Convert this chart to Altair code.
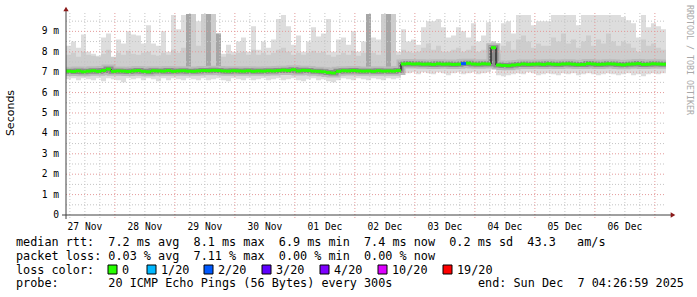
import altair as alt
import pandas as pd
from datetime import datetime, timezone, timedelta

# ---------------- data (2-hour bins, 120 bins over 10 days) ----------------
med = [
    7.05, 7.03, 7.06, 7.02, 7.05, 7.07, 7.04, 7.08, 7.15, 7.04,
    7.06, 7.05, 7.03, 7.06, 7.08, 7.04, 7.02, 7.07, 7.06, 7.05,
    7.08, 7.04, 7.06, 7.07, 7.05, 7.04, 7.06, 7.08, 7.07, 7.09,
    7.08, 7.06, 7.05, 7.07, 7.06, 7.05, 7.07, 7.04, 7.06, 7.05,
    7.07, 7.06, 7.08, 7.10, 7.08, 7.12, 7.06, 7.09, 7.08, 7.05,
    7.04, 7.02, 6.98, 6.96, 7.04, 7.07, 7.06, 7.08, 7.06, 7.05,
    7.06, 7.04, 7.07, 7.05, 7.06, 7.05, 7.08, 7.40, 7.42, 7.40,
    7.41, 7.39, 7.40, 7.38, 7.41, 7.39, 7.40, 7.38, 7.39, 7.42,
    7.44, 7.40, 7.39, 7.41, 7.40, 8.20, 7.35, 7.33, 7.32, 7.35,
    7.37, 7.40, 7.38, 7.39, 7.40, 7.38, 7.41, 7.39, 7.38, 7.40,
    7.41, 7.39, 7.37, 7.38, 7.42, 7.40, 7.38, 7.39, 7.41, 7.40,
    7.38, 7.36, 7.39, 7.40, 7.42, 7.38, 7.39, 7.41, 7.40, 7.39,
]
hi = [
    8.3, 8.5, 8.2, 8.85, 8.0, 7.9, 7.8, 8.7, 8.9, 7.6,
    8.6, 8.4, 9.0, 8.85, 8.8, 8.4, 9.3, 8.4, 8.3, 9.0,
    8.0, 9.8, 9.1, 9.8, 9.8, 9.8, 9.5, 9.8, 9.8, 9.6,
    8.7, 7.9, 8.35, 8.0, 8.5, 8.7, 8.0, 9.25, 8.1, 8.5,
    8.2, 8.6, 9.6, 9.8, 9.25, 8.35, 8.8, 8.0, 8.5, 9.2,
    8.75, 8.9, 9.6, 8.0, 8.6, 8.7, 8.35, 9.0, 8.0, 8.5,
    9.85, 8.7, 8.6, 9.8, 9.8, 9.8, 8.0, 9.1, 8.5, 8.6,
    8.35, 9.2, 9.5, 9.5, 9.6, 9.2, 8.7, 8.8, 9.2, 9.0,
    8.7, 9.4, 8.5, 8.8, 9.45, 8.5, 8.1, 9.4, 9.5, 8.9,
    9.8, 9.8, 9.8, 9.3, 9.5, 9.5, 9.5, 9.8, 9.8, 9.8,
    9.8, 9.8, 9.3, 9.8, 9.8, 9.8, 9.8, 9.8, 9.8, 9.8,
    9.8, 9.7, 9.55, 9.4, 8.7, 9.8, 9.2, 9.4, 9.25, 9.1,
]
mid = [
    7.85, 7.95, 7.75, 8.0, 7.85, 7.8, 7.75, 7.9, 8.1, 7.75,
    7.95, 7.85, 8.05, 7.9, 7.85, 7.95, 8.0, 7.85, 7.8, 7.95,
    7.85, 8.1, 7.95, 8.2, 9.85, 9.85, 8.3, 9.85, 9.85, 9.85,
    8.1, 7.75, 7.9, 7.85, 7.95, 8.0, 7.85, 8.1, 7.85, 7.95,
    7.85, 7.95, 8.1, 8.2, 8.0, 7.85, 7.95, 7.85, 7.95, 8.05,
    7.95, 8.0, 7.85, 7.75, 7.85, 7.95, 7.85, 8.05, 7.8, 7.95,
    8.1, 7.95, 7.85, 9.85, 9.85, 9.85, 7.85, 8.1, 8.0, 7.95,
    8.0, 8.2, 8.4, 8.1, 8.3, 8.0, 8.0, 8.1, 8.2, 8.0,
    8.1, 8.3, 8.0, 8.1, 8.4, 8.5, 7.9, 8.3, 8.5, 8.1,
    8.6, 8.8, 8.5, 8.2, 8.4, 8.3, 8.3, 8.7, 8.5, 8.9,
    8.4, 8.6, 8.2, 8.5, 8.8, 8.3, 8.6, 8.4, 8.9, 8.5,
    8.3, 8.5, 8.4, 8.2, 8.0, 8.6, 8.3, 8.4, 8.2, 8.1,
]
lo = [
    6.65, 6.7, 6.6, 6.7, 6.65, 6.6, 6.7, 6.55, 6.7, 6.65,
    6.6, 6.5, 6.7, 6.65, 6.7, 6.6, 6.7, 6.65, 6.55, 6.7,
    6.6, 6.7, 6.65, 6.6, 6.7, 6.65, 6.6, 6.7, 6.6, 6.65,
    6.7, 6.6, 6.55, 6.7, 6.65, 6.6, 6.7, 6.6, 6.65, 6.7,
    6.6, 6.65, 6.7, 6.6, 6.65, 6.7, 6.6, 6.55, 6.65, 6.7,
    6.6, 6.65, 6.55, 6.5, 6.6, 6.7, 6.65, 6.6, 6.7, 6.65,
    6.6, 6.7, 6.65, 6.6, 6.7, 6.65, 6.7, 7.0, 6.95, 7.0,
    6.9, 7.0, 6.95, 6.9, 7.0, 6.95, 6.85, 6.95, 7.0, 6.9,
    6.95, 7.0, 6.9, 6.95, 7.0, 7.95, 6.85, 6.8, 6.85, 6.9,
    6.95, 6.9, 7.0, 6.95, 6.85, 6.9, 6.95, 6.9, 6.85, 6.95,
    6.9, 6.95, 6.85, 6.9, 6.95, 6.9, 6.85, 6.9, 6.95, 6.9,
    6.85, 6.9, 6.95, 6.85, 6.9, 6.8, 6.9, 6.95, 6.9, 6.95,
]
loss = [
    0, 0, 0, 0, 0, 0, 0, 0, 0, 0,
    0, 0, 0, 0, 0, 0, 0, 0, 0, 0,
    0, 0, 0, 0, 0, 0, 0, 0, 0, 0,
    0, 0, 0, 0, 0, 0, 0, 0, 0, 0,
    0, 0, 0, 0, 0, 0, 0, 0, 0, 0,
    0, 0, 0, 0, 0, 0, 0, 0, 0, 0,
    0, 0, 0, 0, 0, 0, 0, 0, 0, 0,
    0, 0, 0, 0, 0, 0, 0, 0, 0, 2,
    0, 0, 0, 0, 0, 0, 0, 0, 0, 0,
    0, 0, 0, 0, 0, 0, 0, 0, 0, 0,
    0, 0, 0, 0, 0, 0, 0, 0, 0, 0,
    0, 0, 0, 0, 0, 0, 0, 0, 0, 0,
]
spike_bins = [24, 28, 30, 60, 64]
spike_top = [9.85, 9.85, 8.9, 9.85, 9.85]

loss_levels = [0, 1, 2, 3, 4, 10, 19]
loss_labels = ["0", "1/20", "2/20", "3/20", "4/20", "10/20", "19/20"]
loss_colors = ["#26ff00", "#00b8ff", "#0059ff", "#5e00ff", "#7e00ff", "#dd00ff", "#ff0000"]

y_ticks = [0, 1, 2, 3, 4, 5, 6, 7, 8, 9]
line_rtt = "median rtt:  7.2 ms avg  8.1 ms max  6.9 ms min  7.4 ms now  0.2 ms sd  43.3   am/s"
line_loss = "packet loss: 0.03 % avg  7.11 % max  0.00 % min  0.00 % now"
line_color = "loss color:"
line_probe = "probe:       20 ICMP Echo Pings (56 Bytes) every 300s"
line_end = "end: Sun Dec  7 04:26:59 2025"
side_text = "RRDTOOL / TOBI OETIKER"
y_title = "Seconds"

# ---------------- layout helpers ----------------
W, H = 600, 202
NB = len(med)
end_dt = datetime(2025, 12, 7, 4, 26, 59, tzinfo=timezone.utc)
start_dt = end_dt - timedelta(days=10)
start_ms = int(start_dt.timestamp() * 1000)
end_ms = int(end_dt.timestamp() * 1000)
STEP = (end_ms - start_ms) // NB

rows = []
for i in range(NB):
    rows.append(dict(t=start_ms + i * STEP, t2=start_ms + (i + 1) * STEP,
                     med=med[i], hi=hi[i], mid=mid[i], lo=lo[i], loss=loss[i]))
df = pd.DataFrame(rows)
last = dict(rows[-1]); last["t"] = end_ms
df_step = pd.DataFrame(rows + [last])

spk = pd.DataFrame([dict(t=start_ms + b * STEP, t2=start_ms + (b + 1) * STEP,
                         med=med[b], top=s) for b, s in zip(spike_bins, spike_top)])

# grid positions (every 6 h, red at midnight) and day-label positions (noon)
g_major, g_minor, noons = [], [], []
cur = datetime(2025, 11, 27, 6, 0, tzinfo=timezone.utc)
while cur < end_dt:
    ms = int(cur.timestamp() * 1000)
    (g_major if cur.hour == 0 else g_minor).append(ms)
    if cur.hour == 12:
        noons.append(ms)
    cur += timedelta(hours=6)

xs = alt.Scale(domain=[start_ms, end_ms], nice=False, zero=False)
ys = alt.Scale(domain=[0, 9.9], nice=False, zero=False)
MONO = "DejaVu Sans Mono"
NB_SP = "\u00a0"

def xf(field="t"):
    return alt.X(f"{field}:Q", scale=xs, axis=None)

def yf(field):
    return alt.Y(f"{field}:Q", scale=ys, axis=None)

# ---------------- layers ----------------
light = alt.Chart(df_step).mark_area(interpolate="step-after", color="#dddddd").encode(
    x=xf(), y=yf("lo"), y2="hi:Q")
medium = alt.Chart(df_step).mark_area(interpolate="step-after", color="#cdcdcd").encode(
    x=xf(), y=yf("med"), y2="mid:Q")
spikes = alt.Chart(spk).mark_rect(color="#a6a6a6").encode(
    x=xf(), x2="t2:Q", y=yf("med"), y2="top:Q")

band1 = alt.Chart(df_step).mark_line(interpolate="step-after", color="#bababa", strokeWidth=9).encode(
    x=xf(), y=yf("med"))
band2 = alt.Chart(df_step).mark_line(interpolate="step-after", color="#8c8c8c", strokeWidth=5).encode(
    x=xf(), y=yf("med"))

# grid
vminor = alt.Chart(pd.DataFrame({"t": g_minor})).mark_rule(
    color="#c4c4c4", strokeDash=[1, 2], strokeWidth=1).encode(
    x=xf(), y=alt.value(0), y2=alt.value(H + 3))
vmajor = alt.Chart(pd.DataFrame({"t": g_major})).mark_rule(
    color="#e49a9a", strokeDash=[1, 2], strokeWidth=1).encode(
    x=xf(), y=alt.value(0), y2=alt.value(H + 3))
hminor = alt.Chart(pd.DataFrame({"v": [k + 0.5 for k in y_ticks]})).mark_rule(
    color="#c4c4c4", strokeDash=[1, 2], strokeWidth=1).encode(
    y=yf("v"), x=alt.value(0), x2=alt.value(W))
hmajor = alt.Chart(pd.DataFrame({"v": y_ticks[1:]})).mark_rule(
    color="#e49a9a", strokeDash=[1, 2], strokeWidth=1).encode(
    y=yf("v"), x=alt.value(0), x2=alt.value(W))

blackline = alt.Chart(df_step).mark_line(interpolate="step-after", color="#000000", strokeWidth=1).encode(
    x=xf(), y=yf("med"))
segs = alt.Chart(df).mark_rule(strokeWidth=3).encode(
    x=xf(), x2="t2:Q", y=yf("med"),
    color=alt.Color("loss:O", scale=alt.Scale(domain=loss_levels, range=loss_colors), legend=None))

# tick labels placed through the scales
xlabels = alt.Chart(pd.DataFrame({"t": noons})).transform_calculate(
    lab="utcFormat(datum.t, '%d %b')").mark_text(
    font=MONO, fontSize=9.6, color="#000000", align="center", baseline="middle").encode(
    x=xf(), y=alt.value(H + 11.5), text="lab:N")
ylabels = alt.Chart(pd.DataFrame({"v": y_ticks})).transform_calculate(
    lab="datum.v == 0 ? '0" + NB_SP * 2 + "' : datum.v + '" + NB_SP + "m'").mark_text(
    font=MONO, fontSize=9.6, color="#000000", align="right", baseline="middle").encode(
    y=yf("v"), x=alt.value(-7), text="lab:N")

one = alt.Data(values=[{"a": 1}])
AX = "#404040"
xaxis_line = alt.Chart(one).mark_rule(color=AX, strokeWidth=1).encode(
    x=alt.value(-4), x2=alt.value(W + 6), y=alt.value(H))
yaxis_line = alt.Chart(one).mark_rule(color=AX, strokeWidth=1).encode(
    y=alt.value(-3), y2=alt.value(H + 4), x=alt.value(0))
arrow_r = alt.Chart(one).mark_point(shape="triangle-right", filled=True, size=28, color="#8b1a1a", opacity=1).encode(
    x=alt.value(W + 7), y=alt.value(H))
arrow_u = alt.Chart(one).mark_point(shape="triangle-up", filled=True, size=28, color="#8b1a1a", opacity=1).encode(
    x=alt.value(0), y=alt.value(-4))

def txt(s, x, y, size=11.8, font=MONO, color="#000000", angle=0, align="left", baseline="alphabetic"):
    return alt.Chart(one).mark_text(font=font, fontSize=size, color=color, angle=angle,
                                    align=align, baseline=baseline).encode(
        x=alt.value(x), y=alt.value(y), text=alt.value(s.replace(" ", NB_SP)))

OX, OY = 66, 13
texts = [
    txt(line_rtt, 16 - OX, 246 - OY),
    txt(line_loss, 16 - OX, 259.7 - OY),
    txt(line_color, 16 - OX, 273.5 - OY),
    txt(line_probe, 16 - OX, 287 - OY),
    txt(line_end, 478 - OX, 287 - OY),
    txt(y_title, 11 - OX, 113 - OY, size=11, font="DejaVu Sans", angle=270, align="center", baseline="middle"),
    txt(side_text, 688.5 - OX, 60 - OY, size=8.3, color="#a8a8a8", angle=90, align="center", baseline="middle"),
]

sq_x = [108, 147, 204, 262, 320, 378, 443]
legend_layers = []
for px, lab, col in zip(sq_x, loss_labels, loss_colors):
    legend_layers.append(alt.Chart(one).mark_rect(color=col, stroke="#000000", strokeWidth=1).encode(
        x=alt.value(px - OX), x2=alt.value(px - OX + 9), y=alt.value(265 - OY), y2=alt.value(274 - OY)))
    legend_layers.append(txt(lab, px + 14 - OX, 273.5 - OY))

chart = alt.layer(
    light, medium, spikes, band1, band2,
    vminor, hminor, vmajor, hmajor,
    blackline, segs, xlabels, ylabels,
    xaxis_line, yaxis_line, arrow_r, arrow_u,
    *texts, *legend_layers,
).properties(
    width=W, height=H,
    autosize=alt.AutoSizeParams(type="none"),
    padding={"left": OX, "top": OY, "right": 697 - OX - W, "bottom": 297 - OY - H},
    background="#ffffff",
).configure_view(strokeWidth=0)

chart.save("out.html", embed_options={"renderer": "svg", "actions": False})
